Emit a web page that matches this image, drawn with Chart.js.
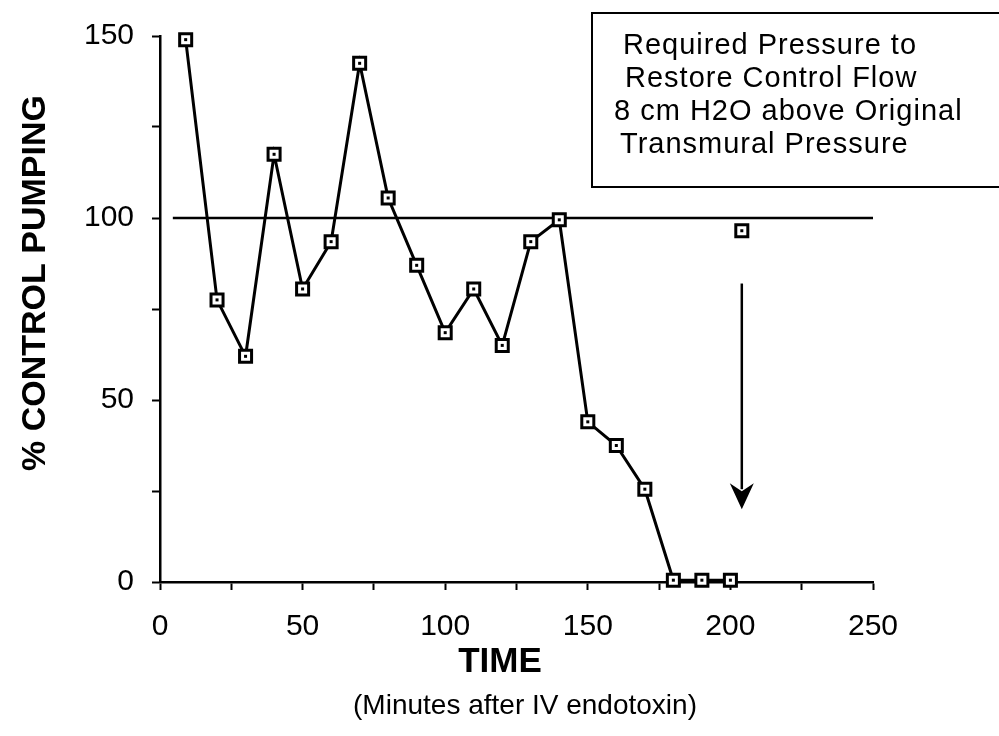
<!DOCTYPE html>
<html>
<head>
<meta charset="utf-8">
<script src="https://cdn.jsdelivr.net/npm/chart.js@4/dist/chart.umd.min.js"></script>
<style>
html,body{margin:0;padding:0;background:#fff}
#wrap{width:999px;height:736px}
</style>
</head>
<body>
<div id="wrap"><canvas id="pumpChart" width="999" height="736"></canvas></div>
<script>

// ===============================
// DATA
// ===============================

const times = [9,20,30,40,50,60,70,80,90,100,110,120,130,140,150,160,170,180,190,200]
const pumping = [149,77.5,62,117.5,80.5,93.5,142.5,105.5,87,68.5,80.5,65,93.5,99.5,44,37.5,25.5,0.5,0.5,0.5]

const restoredTime = [204]
const restoredValue = [96.5]

const controlX = [4.5,250]
const controlY = [100,100]

const xTicks = [0,50,100,150,200,250]
const yTicks = [0,50,100,150]

const boxLines = [
"Required Pressure to",
"Restore Control Flow",
"8 cm H2O above Original",
"Transmural Pressure"
]

// arrow under the restored point (value units)
const arrowX = 204
const arrowFrom = 82
const arrowTo = 20

const FONT = "'Liberation Sans', Arial, Helvetica, sans-serif"

const toPts = (xs,ys)=>xs.map((x,i)=>({x:x,y:ys[i]}))

// ===============================
// PLUGINS
// ===============================

const markerDots = {
id:"markerDots",
afterDatasetsDraw(chart){
const ctx = chart.ctx
ctx.save()
ctx.fillStyle = "#000"
;[0,1].forEach(i=>{
chart.getDatasetMeta(i).data.forEach(p=>{
ctx.fillRect(p.x-1.5,p.y-1.5,3,3)
})
})
ctx.restore()
}
}

const annotations = {
id:"annotations",
afterDraw(chart){
const ctx = chart.ctx
const xs = chart.scales.x
const ys = chart.scales.y
ctx.save()

// arrow
const ax = xs.getPixelForValue(arrowX)
const y1 = ys.getPixelForValue(arrowFrom)
const y2 = ys.getPixelForValue(arrowTo)
ctx.strokeStyle = "#000"
ctx.lineWidth = 2.5
ctx.beginPath()
ctx.moveTo(ax,y1)
ctx.lineTo(ax,y2-20)
ctx.stroke()
ctx.fillStyle = "#000"
ctx.beginPath()
ctx.moveTo(ax,y2)
ctx.lineTo(ax-12,y2-26)
ctx.lineTo(ax,y2-18)
ctx.lineTo(ax+12,y2-26)
ctx.closePath()
ctx.fill()

// legend box
ctx.lineWidth = 2
ctx.strokeRect(592,13,420,174)
ctx.font = "29px " + FONT
ctx.letterSpacing = "1px"
ctx.textAlign = "left"
ctx.textBaseline = "middle"
const lx = [623,625,614,620]
boxLines.forEach((t,i)=>{
ctx.fillText(t,lx[i],46+i*33)
})

// x titles
ctx.letterSpacing = "0px"
ctx.textAlign = "center"
ctx.font = "bold 35px " + FONT
ctx.fillText("TIME", 500, 662)
ctx.font = "28px " + FONT
ctx.fillText("(Minutes after IV endotoxin)", 525, 706)

// y title
ctx.translate(36,283)
ctx.rotate(-Math.PI/2)
ctx.font = "bold 34px " + FONT
ctx.fillText("% CONTROL PUMPING", 0, 0)

ctx.restore()
}
}

// ===============================
// CHART
// ===============================

new Chart(document.getElementById("pumpChart"),{

type:"scatter",

data:{
datasets:[{
data:toPts(times,pumping),
showLine:true,
borderColor:"#000",
borderWidth:3,
pointStyle:"rect",
pointRadius:8.5,
pointBorderWidth:3,
pointBorderColor:"#000",
pointBackgroundColor:"#fff",
clip:false,
order:0
},{
data:toPts(restoredTime,restoredValue),
showLine:false,
pointStyle:"rect",
pointRadius:8.5,
pointBorderWidth:3,
pointBorderColor:"#000",
pointBackgroundColor:"#fff",
clip:false,
order:0
},{
data:toPts(controlX,controlY),
showLine:true,
borderColor:"#000",
borderWidth:2.5,
pointRadius:0,
clip:false,
order:1
}]
},

options:{
responsive:false,
animation:false,
devicePixelRatio:1,

layout:{
padding:{left:0,right:126,top:34,bottom:0}
},

plugins:{
legend:{display:false},
tooltip:{enabled:false}
},

scales:{

x:{
type:"linear",
min:0,
max:250,
afterFit(scale){scale.height = 154},
afterBuildTicks(scale){
scale.ticks = [0,25,50,75,100,125,150,175,200,225,250].map(v=>({value:v}))
},
border:{color:"#000",width:2.5},
grid:{drawOnChartArea:false,drawTicks:true,tickLength:8,tickColor:"#000",tickWidth:2},
ticks:{
color:"#000",
padding:19,
maxRotation:0,
font:{family:FONT,size:30},
callback:v=>xTicks.includes(v) ? String(v) : ""
}
},

y:{
type:"linear",
min:0,
max:150,
afterFit(scale){scale.width = 160},
afterBuildTicks(scale){
scale.ticks = [0,25,50,75,100,125,150].map(v=>({value:v}))
},
border:{color:"#000",width:2.5},
grid:{drawOnChartArea:false,drawTicks:true,tickLength:8,tickColor:"#000",tickWidth:2},
ticks:{
color:"#000",
padding:18,
font:{family:FONT,size:30},
callback:v=>yTicks.includes(v) ? String(v) : ""
}
}

}

},

plugins:[markerDots,annotations]

})

</script>
</body>
</html>
